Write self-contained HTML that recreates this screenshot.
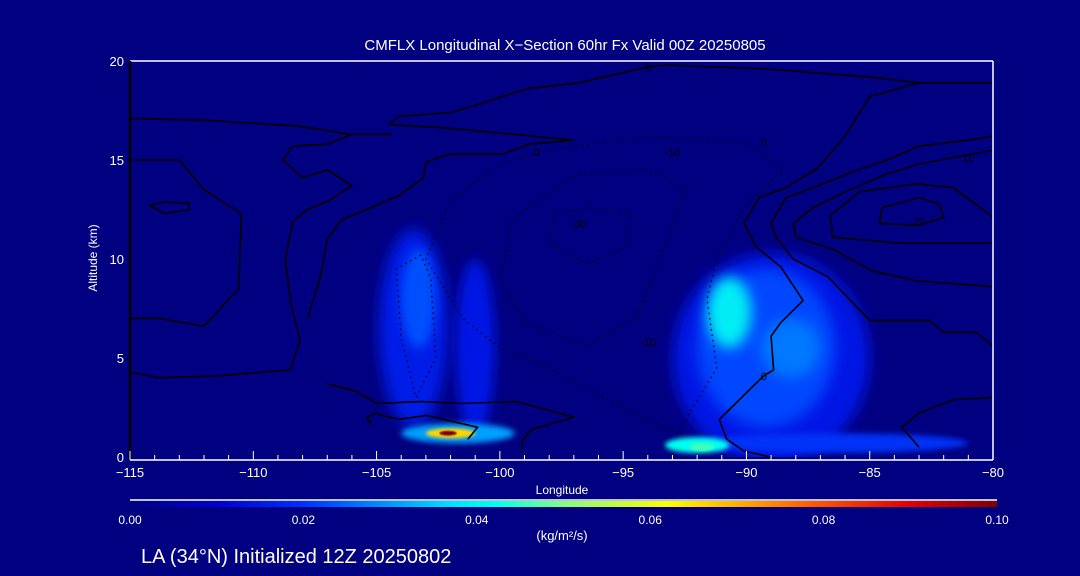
<!DOCTYPE html>
<html><head><meta charset="utf-8">
<style>
html,body{margin:0;padding:0;background:#000080;}
svg{display:block;}
text{font-family:"Liberation Sans",sans-serif;fill:#fff;}
</style></head>
<body>
<svg id="chart" width="1080" height="576" viewBox="0 0 1080 576">
<defs id="defs">
<clipPath id="plotclip"><rect x="130" y="61" width="863" height="396"/></clipPath>
<linearGradient id="cbar" x1="0" x2="1" y1="0" y2="0">
<stop offset="0" stop-color="#000080"/><stop offset="0.1" stop-color="#0000d0"/><stop offset="0.2" stop-color="#0030ff"/>
<stop offset="0.37" stop-color="#00e0ff"/><stop offset="0.42" stop-color="#00ffee"/><stop offset="0.5" stop-color="#80ff80"/>
<stop offset="0.62" stop-color="#ffff00"/><stop offset="0.78" stop-color="#ff6000"/><stop offset="0.9" stop-color="#e00000"/><stop offset="1" stop-color="#800000"/>
</linearGradient>
</defs>
<rect x="0" y="0" width="1080" height="576" fill="#000080"/>
<text x="565" y="50" font-size="15" text-anchor="middle">CMFLX Longitudinal X−Section 60hr  Fx Valid 00Z 20250805</text>
<g id="fills" clip-path="url(#plotclip)"><g id="fillinner"></g></g>
<g id="contours" clip-path="url(#plotclip)"></g>
<line x1="130" y1="61" x2="993" y2="61" stroke="#fff" stroke-width="1.5"/>
<line x1="993" y1="61" x2="993" y2="460" stroke="#fff" stroke-width="1.5"/>
<line x1="130" y1="61" x2="130" y2="460" stroke="#000" stroke-width="2.5"/>
<line x1="130" y1="460" x2="993" y2="460" stroke="#fff" stroke-width="1.5"/>
<g id="xticks"></g>
<g id="yticks"></g>
<text x="562" y="494" font-size="12" text-anchor="middle">Longitude</text>
<text transform="translate(97,258) rotate(-90)" font-size="12" text-anchor="middle">Altitude (km)</text>
<line x1="130" y1="500" x2="997" y2="500" stroke="#fff" stroke-width="1.5"/>
<rect x="130" y="501" width="867" height="6" fill="url(#cbar)"/>
<g id="cbticks"></g>
<text x="562" y="540" font-size="13" text-anchor="middle">(kg/m²/s)</text>
<text x="141" y="563" font-size="20">LA (34°N) Initialized 12Z 20250802</text>
</svg>
<script>
const xTicks=[-115,-110,-105,-100,-95,-90,-85,-80];
const yTicks=[0,5,10,15,20];
const cbLabels=["0.00","0.02","0.04","0.06","0.08","0.10"];
const cbValues=[0,0.02,0.04,0.06,0.08,0.10];
// flux blobs: center lon, center alt, half-width lon, half-height alt, value
const blobLon=[-103.5,-103.3,-101.0,-89.0,-89.2,-88.2,-90.7,-86.5,-101.7,-92.0,-102.0,-91.8,-102.1];
const blobAlt=[6.5,8.0,5.5,5.0,5.5,5.5,7.3,0.7,1.2,0.6,1.2,0.5,1.2];
const blobRLon=[1.4,0.7,0.8,4.0,2.8,1.2,0.9,5.5,2.3,1.3,1.0,0.5,0.35];
const blobRAlt=[5.0,2.5,4.5,5.3,4.0,1.5,1.8,0.5,0.5,0.4,0.25,0.2,0.12];
const blobVal=[0.014,0.022,0.013,0.013,0.021,0.026,0.038,0.018,0.03,0.04,0.065,0.045,0.1];
// contour lines (lon, alt)
const cTopA=[[-115,17.1],[-111.8,17.0],[-108.1,16.7],[-106.1,16.3],[-104.4,16.3],[-106,16.3],[-107,15.8],[-108.4,15.7],[-108.8,15.0],[-108,14.1],[-107,14.5],[-106,13.7],[-107,12.9],[-107.8,12.5],[-108.4,11.9],[-108.7,10],[-108.5,7.9],[-108.1,5.9],[-108.5,4.4],[-111.4,4.1],[-113.8,4.0],[-115,4.3]];
const cTopB=[[-104.5,16.8],[-104.1,17.2],[-102,17.4],[-100.9,17.8],[-98.9,18.6],[-96.8,18.9],[-94,19.7],[-93.2,19.8],[-89.2,19.6],[-85.1,19.2],[-83,18.9],[-80,18.9]];
const cTopC=[[-104.5,16.8],[-102,16.6],[-97,16.0],[-98.8,15.8],[-99.9,15.3],[-102,15.3],[-103,14.9],[-103.1,14.1],[-104.1,13.2],[-105.2,12.6],[-106.4,12.0],[-107,11],[-107.3,9],[-107.8,7]];
const cLeft=[[-115,15],[-113,15],[-112,13.5],[-110.5,12.3],[-110.5,11.5],[-110.6,8.5],[-112,6.6],[-113.8,7.0],[-115,7.0]];
const cLeftIsle=[[-114.2,12.7],[-113.6,12.3],[-112.6,12.5],[-112.6,12.8],[-113.6,12.9],[-114.2,12.7]];
const cRight0=[[-83,18.9],[-85,18.2],[-85.5,17.2],[-85.9,16.4],[-86.2,15.9],[-87.1,14.6],[-88.4,13.6],[-89.5,13.1],[-90.1,11.8],[-89.6,10.6],[-88.6,9.6],[-87.7,7.9],[-88.6,6.8],[-89,6.1],[-88.9,4.4],[-89.3,4.1],[-91.1,1.9],[-90.8,0.9],[-90.1,0.3],[-89,0]];
const cRight5=[[-80,16.2],[-81,16],[-83,15.7],[-84.3,15],[-85.7,14.4],[-87.3,13.6],[-88.4,13.1],[-89,11.8],[-88.8,11.1],[-88.1,10],[-86.7,9.1],[-85.7,7.8],[-85,6.9],[-82.6,6.9],[-82,6.3],[-80.7,6.3],[-80,5.6]];
const cRight10=[[-80,15.5],[-81.7,15.1],[-83,14.8],[-84.3,14.3],[-85.8,13.5],[-87.3,12.6],[-88.1,11.8],[-88,11.1],[-86.5,10.5],[-84.9,9.4],[-83.1,8.9],[-80,8.6]];
const cRight15=[[-80,12.1],[-81.6,13.6],[-83.1,13.8],[-85.4,13.4],[-86.6,12.2],[-86.5,11.1],[-83.8,10.8],[-80,10.8]];
const cRight20=[[-84.5,12.6],[-83,13.1],[-82.2,12.8],[-82,12.1],[-83,11.7],[-84.6,11.8],[-84.5,12.6]];
const cRightLow=[[-80,3.0],[-81.6,2.9],[-83,2.2],[-83.7,1.5],[-83,0.5]];
const cLowOuter=[[-107,3.7],[-105.8,3.3],[-105,2.7],[-103.2,2.8],[-101.6,2.7],[-99.3,2.8],[-97,2.0],[-98.7,1.4],[-99.1,0.8],[-99.1,0.3]];
const cLowInner=[[-105.2,1.6],[-105.4,2.0],[-105.1,2.2],[-104.1,1.9],[-103,2.1],[-100.9,1.5],[-101.3,0.9]];
const cDotA=[[-98,15.5],[-94,16.2],[-90,15.9],[-88.5,14.5],[-90,12.8],[-91.2,10],[-91.6,8],[-91.2,4.5],[-92.8,1.2],[-95,2.5],[-98,4.5],[-100,5.5],[-101.5,7],[-103,10],[-102,13],[-100,14.8],[-98,15.5]];
const cDotB=[[-97,14.2],[-94,14.6],[-92.5,13.5],[-93.5,10],[-94.5,7],[-96.5,5.6],[-99,6.8],[-100,9],[-99.5,12],[-97,14.2]];
const cDotC=[[-96.5,12.6],[-94.6,12.3],[-95,10.5],[-96.5,9.8],[-98,10.8],[-97.8,12.2],[-96.5,12.6]];
const cDotD=[[-103.2,10.2],[-104.2,9.5],[-104,6],[-103.4,3.0],[-102.6,5],[-102.8,9],[-103.2,10.2]];
const solidContours=[cTopA,cTopB,cTopC,cLeft,cLeftIsle,cRight0,cRight5,cRight10,cRight15,cRight20,cRightLow,cLowOuter,cLowInner];
const dottedContours=[cDotA,cDotB,cDotC,cDotD];
const labelLon=[-94,-89.3,-81,-83,-93,-96.8,-94,-89.3,-98.5];
const labelAlt=[19.7,15.9,15.1,11.9,15.4,11.8,5.8,4.1,15.4];
const labelTxt=["0","0","10","20","-10","-30","-10","0","0"];

const NS="http://www.w3.org/2000/svg";
const X=lon=>130+(lon+115)*(863/35);
const Y=alt=>457-alt*19.8;
const stops=[[0,[0,0,128]],[0.008,[0,0,210]],[0.02,[0,60,255]],[0.035,[0,210,255]],[0.04,[0,255,240]],[0.05,[128,255,128]],[0.06,[255,255,0]],[0.08,[255,96,0]],[0.09,[224,0,0]],[0.1,[128,0,0]]];
function cmap(v){for(let i=1;i<stops.length;i++){if(v<=stops[i][0]){const a=stops[i-1],b=stops[i],t=(v-a[0])/(b[0]-a[0]);return 'rgb('+a[1].map((c,k)=>Math.round(c+(b[1][k]-c)*t)).join(',')+')';}}return 'rgb(128,0,0)';}
function mk(tag,attrs,parent){const e=document.createElementNS(NS,tag);for(const k in attrs)e.setAttribute(k,attrs[k]);parent.appendChild(e);return e;}

const defs=document.getElementById('defs');
const fi=document.getElementById('fillinner');
for(let i=0;i<blobLon.length;i++){
 const rx=blobRLon[i]*863/35, ry=blobRAlt[i]*19.8;
 const sd=Math.max(0.8,Math.min(7,0.3*Math.min(rx,ry)));
 const f=mk('filter',{id:'bf'+i,x:'-60%',y:'-60%',width:'220%',height:'220%'},defs);
 mk('feGaussianBlur',{stdDeviation:sd.toFixed(2)},f);
 const e=mk('ellipse',{cx:X(blobLon[i]),cy:Y(blobAlt[i]),rx:rx,ry:ry,fill:cmap(blobVal[i]),filter:'url(#bf'+i+')'},fi);
 
 
}
const cg=document.getElementById('contours');
function pts(a){return a.map(p=>X(p[0]).toFixed(1)+','+Y(p[1]).toFixed(1)).join(' ');}
solidContours.forEach(c=>{
 const e=mk('polyline',{points:pts(c),fill:'none',stroke:'#000','stroke-width':1.6,'stroke-linejoin':'round'},cg);
 
 
});
dottedContours.forEach(c=>{
 const e=mk('polyline',{points:pts(c),fill:'none',stroke:'#000','stroke-width':1.3,'stroke-dasharray':'1.5 4'},cg);
 
 
});
labelTxt.forEach((t,i)=>{
 const e=mk('text',{x:X(labelLon[i]),y:Y(labelAlt[i])+4,'font-size':11,'text-anchor':'middle',style:'fill:#000'},cg);
 e.textContent=t;
 
 
});
const xg=document.getElementById('xticks');
for(let l=-115;l<=-80;l++){
 const major=(l%5===0);
 const t=mk('line',{x1:X(l),x2:X(l),y1:460,y2:major?451:455,stroke:'#fff','stroke-width':1},xg);
 
 
}
xTicks.forEach(v=>{
 const e=mk('text',{x:X(v),y:477,'font-size':13,'text-anchor':'middle'},xg);
 e.textContent=String(v).replace('-','−');
 
 
});
const yg=document.getElementById('yticks');
yTicks.forEach(v=>{
 const e=mk('text',{x:124,y:Y(v)+5,'font-size':13,'text-anchor':'end'},yg);
 e.textContent=String(v);
 
 
});
const cb=document.getElementById('cbticks');
cbValues.forEach((v,i)=>{
 const e=mk('text',{x:130+v/0.1*867,y:524,'font-size':12,'text-anchor':'middle'},cb);
 e.textContent=cbLabels[i];
 
 
});
</script>
</body></html>
